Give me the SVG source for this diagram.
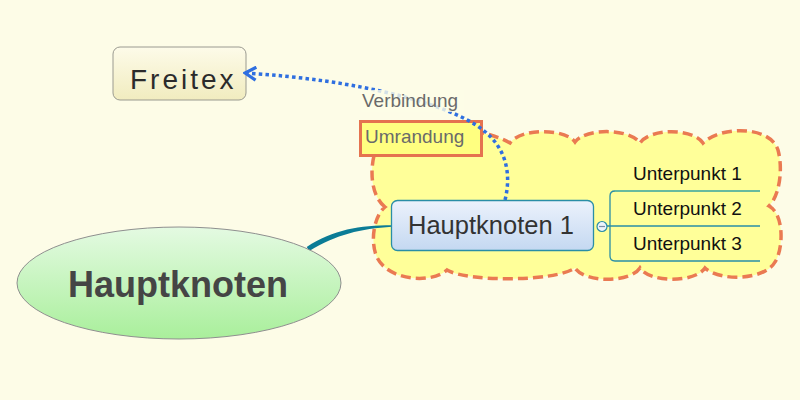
<svg xmlns="http://www.w3.org/2000/svg" width="800" height="400" viewBox="0 0 800 400">
<defs>
<style>
.t{font-family:"Liberation Sans",Arial,sans-serif}
.sub{font-size:19px;fill:#111}
.lbl{font-size:19px;fill:#6a6a6a}
</style>
<linearGradient id="gFrei" x1="0" y1="0" x2="0" y2="1"><stop offset="0" stop-color="#fdfbe9"/><stop offset="1" stop-color="#f1ecbf"/></linearGradient>
<linearGradient id="gMain" x1="0" y1="0" x2="0" y2="1"><stop offset="0" stop-color="#e4fae2"/><stop offset="1" stop-color="#a9ef9b"/></linearGradient>
<linearGradient id="gH1" x1="0" y1="0" x2="0" y2="1"><stop offset="0" stop-color="#ecf2fc"/><stop offset="1" stop-color="#c4d8f1"/></linearGradient>
<marker id="arr" viewBox="0 0 14 16" refX="12" refY="8" markerWidth="14" markerHeight="16" markerUnits="userSpaceOnUse" orient="auto">
<path d="M1,1.5 L12,8 L1,14.5" fill="none" stroke="#2f6fe0" stroke-width="3.2"/>
</marker>
</defs>
<rect width="800" height="400" fill="#fdfce7"/>

<g id="boundary">
<path d="M385,207 C370,195 370,168 375,152 C385,126 470,120 510,143 C520,128 565,128 575,142 C585,128 630,128 640,143 C650,128 693,128 703,143 C720,126 770,125 778,150 C783,168 780,195 769,206 C785,215 783,250 775,262 C765,280 720,282 705,268 C695,283 650,283 640,268 C630,283 585,283 575,268 C555,282 467,282 447,270 C430,285 385,280 376,255 C370,238 375,215 385,207 Z" fill="#ffff99" stroke="#ea7a52" stroke-width="3.5" stroke-dasharray="10 5"/>
</g>

<g id="node-freitex">
<rect x="113" y="47" width="133" height="53" rx="7" fill="url(#gFrei)" stroke="#9a9a90" stroke-width="1"/>
<text class="t" x="130" y="89" font-size="28" letter-spacing="3" fill="#2b2b2b">Freitex</text>
</g>

<g id="label-umrandung">
<rect x="360.5" y="121.5" width="121" height="34" fill="#ffff80" stroke="#e5734f" stroke-width="3"/>
<text class="t lbl" x="365" y="143">Umrandung</text>
</g>

<g id="connectors">
<path d="M306.7,246.9 C333.5,229.5 359.5,225.2 392,225.2 L392,226.8 C360.5,228.8 336.5,234.5 309.3,251.1 Z" fill="#0b7c96"/>
<path d="M602,226 H610 M760,191 H615 Q610,191 610,196 V256 Q610,261 615,261 H760 M610,226 H760" fill="none" stroke="#2a8ea6" stroke-width="1.3"/>
<path d="M760,191 H615" fill="none" stroke="#6cbf9c" stroke-width="1.3"/>
<path d="M505,200 C512,172 505,147 483,130 C450,104 360,80 245,73" fill="none" stroke="#2f6fe0" stroke-width="3.5" stroke-dasharray="3.5 3.2" marker-end="url(#arr)"/>
</g>

<g id="label-verbindung">
<rect x="361" y="90" width="103" height="22" fill="#fdfce7" opacity="0.8"/>
<text class="t lbl" x="362" y="107">Verbindung</text>
</g>

<g id="node-hauptknoten">
<ellipse cx="179" cy="283" rx="162" ry="56" fill="url(#gMain)" stroke="#8f8f8f" stroke-width="1"/>
<text class="t" x="178" y="297" font-size="36" font-weight="bold" text-anchor="middle" fill="#454545">Hauptknoten</text>
</g>

<g id="node-hauptknoten1">
<rect x="391.5" y="200.5" width="202" height="50" rx="6" fill="url(#gH1)" stroke="#2a8ea6" stroke-width="1.3"/>
<text class="t" x="408" y="234" font-size="25.5" fill="#333">Hauptknoten 1</text>
</g>

<g id="collapse">
<circle cx="602" cy="226.5" r="5" fill="#eef4fb" stroke="#2a8ea6" stroke-width="1.2"/>
<path d="M599,226.5 H605" stroke="#7a8ea8" stroke-width="1.2"/>
</g>

<g id="node-unterpunkt1"><text class="t sub" x="633" y="180">Unterpunkt 1</text></g>
<g id="node-unterpunkt2"><text class="t sub" x="633" y="215">Unterpunkt 2</text></g>
<g id="node-unterpunkt3"><text class="t sub" x="633" y="250">Unterpunkt 3</text></g>
</svg>
